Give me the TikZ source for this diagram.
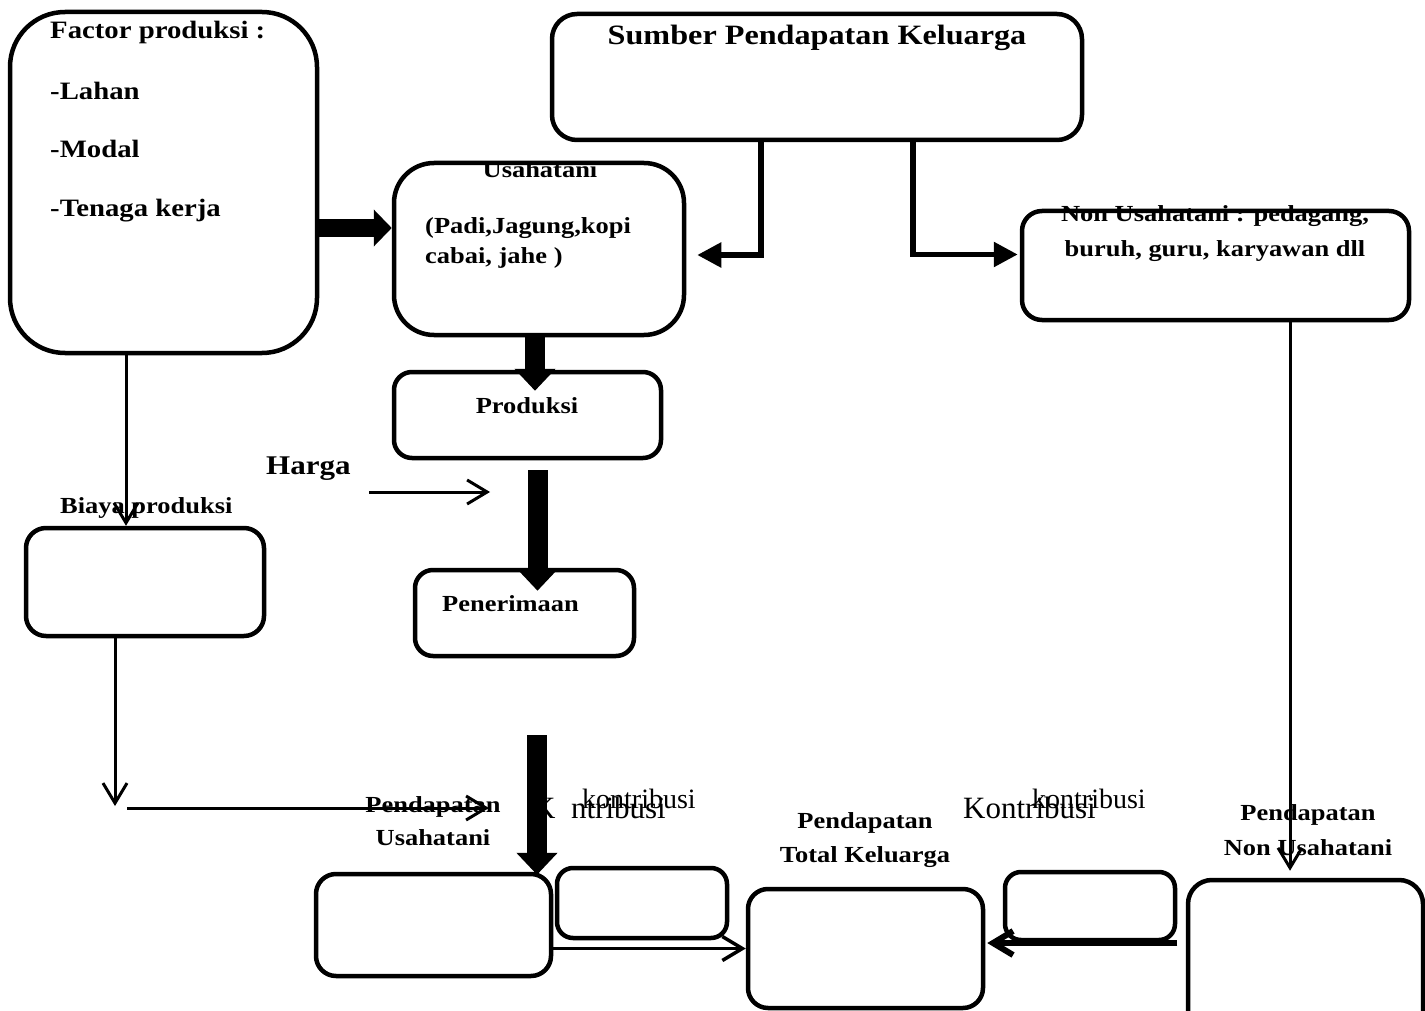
\documentclass[tikz,border=0pt]{standalone}
\usepackage{fontspec}
\setmainfont{Liberation Serif}[BoldFeatures={FakeStretch=1.15}]
\usetikzlibrary{arrows.meta,calc}

\begin{document}
\begin{tikzpicture}[x=1pt,y=1pt,
  box/.style={draw, line width=4.5pt, inner sep=0pt},
  lbl/.style={font=\bfseries\fontsize{23}{26}\selectfont, inner sep=0pt},
  note/.style={font=\fontsize{28}{30}\selectfont, inner sep=0pt, anchor=base west},
  fat/.style={line width=20pt, -{Triangle[length=22pt,width=40pt]}},
  link/.style={line width=3pt, -{Straight Barb[length=20pt,width=24pt]}},
  elbow/.style={line width=5.5pt, -{Triangle[length=24pt,width=24pt]}}
]
\useasboundingbox (0,0) rectangle (1425,-1011);

% boxes
\node[box, rounded corners=55pt, minimum width=307pt, minimum height=341pt] (factor) at (163.5,-182.5) {};
\node[box, rounded corners=25pt, minimum width=530pt, minimum height=126pt] (sumber) at (817,-77) {};
\node[box, rounded corners=40pt, minimum width=290pt, minimum height=172pt] (usaha) at (539,-249) {};
\node[box, rounded corners=20pt, minimum width=387pt, minimum height=109pt] (nonusaha) at (1215.5,-265.5) {};
\node[box, rounded corners=18pt, minimum width=267pt, minimum height=86pt] (produksi) at (527.5,-415) {};
\node[box, rounded corners=18pt, minimum width=219pt, minimum height=86pt] (penerimaan) at (524.5,-613) {};
\node[box, rounded corners=20pt, minimum width=238pt, minimum height=108pt] (biaya) at (145,-582) {};
\node[box, rounded corners=20pt, minimum width=235pt, minimum height=102pt] (pu) at (433.5,-925) {};
\node[box, rounded corners=16pt, minimum width=170pt, minimum height=70pt] (kon1) at (642,-903) {};
\node[box, rounded corners=20pt, minimum width=235pt, minimum height=119pt] (ptk) at (865.5,-948.5) {};
\node[box, rounded corners=16pt, minimum width=170pt, minimum height=68pt] (kon2) at (1090,-906) {};
\node[box, rounded corners=24pt, minimum width=235pt, minimum height=160pt] (pnu) at (1305.5,-960) {};

% texts
\node[lbl, font=\bfseries\fontsize{25}{28}\selectfont, anchor=base west] (f0) at (50,-39) {Factor produksi :};
\node[lbl, font=\bfseries\fontsize{25}{28}\selectfont, anchor=base west] (f1) at (50,-100) {-Lahan};
\node[lbl, font=\bfseries\fontsize{25}{28}\selectfont, anchor=base west] (f2) at (50,-158) {-Modal};
\node[lbl, font=\bfseries\fontsize{25}{28}\selectfont, anchor=base west] (f3) at (50,-217) {-Tenaga kerja};
\node[lbl, font=\bfseries\fontsize{28}{30}\selectfont, anchor=base] (sumber-t) at (817,-45) {Sumber Pendapatan Keluarga};
\node[lbl, anchor=base] (usaha-t) at (540,-178) {Usahatani};
\node[lbl, anchor=base west] (usaha-1) at (425,-234) {(Padi,Jagung,kopi};
\node[lbl, anchor=base west] (usaha-2) at (425,-264) {cabai, jahe )};
\node[lbl, anchor=base] (non-1) at (1215,-222) {Non Usahatani : pedagang,};
\node[lbl, anchor=base] (non-2) at (1215,-257) {buruh, guru, karyawan dll};
\node[lbl, anchor=base] (produksi-t) at (527,-413) {Produksi};
\node[lbl, anchor=base west] (penerimaan-t) at (442,-611) {Penerimaan};
\node[lbl, font=\bfseries\fontsize{27}{30}\selectfont, anchor=base west] (harga) at (266,-474) {Harga};
\node[lbl, anchor=base west] (biaya-t) at (60,-513) {Biaya produksi};
\node[lbl, anchor=base] (pu-1) at (433,-812) {Pendapatan};
\node[lbl, anchor=base] (pu-2) at (433,-845) {Usahatani};
\node[lbl, anchor=base] (ptk-1) at (865,-828) {Pendapatan};
\node[lbl, anchor=base] (ptk-2) at (865,-862) {Total Keluarga};
\node[lbl, anchor=base] (pnu-1) at (1308,-820) {Pendapatan};
\node[lbl, anchor=base] (pnu-2) at (1308,-855) {Non Usahatani};
\node[note, font=\fontsize{31}{33}\selectfont] (kon1-a) at (533,-818) {K\phantom{o}ntribusi};
\node[note] (kon1-b) at (582,-808) {kontribusi};
\node[note, font=\fontsize{31}{33}\selectfont] (kon2-a) at (963,-818) {Kontribusi};
\node[note] (kon2-b) at (1032,-808) {kontribusi};

% free ends
\coordinate (fy) at (0,-228);
\coordinate (lx) at (761,0);
\coordinate (rx) at (913,0);
\coordinate (bx) at (126,0);
\coordinate (nx) at (1290,0);
\coordinate (turn) at (115,-806);
\coordinate (cost-a) at (127,-808);
\coordinate (cost-b) at (489,-808);
\coordinate (harga-a) at (369,-492);
\coordinate (harga-b) at (490,-492);
\coordinate (fat-top) at (537,-735);

% connectors
\draw[fat, line width=18pt, -{Triangle[length=18pt,width=36pt]}] (factor.east |- fy) -- (usaha.west |- fy);
\draw[fat] ($(usaha.south)+(-4,0)$) -- ($(usaha.south |- produksi.north)+(-4,-21)$);
\draw[fat] ($(produksi.south)+(10,-10)$) -- ($(produksi.south |- penerimaan.north)+(10,-23)$);
\draw[fat] (fat-top) -- ($(fat-top |- pu.north)+(0,-3)$);
\draw[elbow] (sumber.south -| lx) |- ($(usaha.east)+(11,-6)$);
\draw[elbow] (sumber.south -| rx) |- ($(nonusaha.west)+(-2,11)$);
\draw[link] (factor.south -| bx) -- (biaya.north -| bx);
\draw[link] (biaya.south -| turn) -- (turn);
\draw[link] (cost-a) -- (cost-b);
\draw[link] (harga-a) -- (harga-b);
\draw[link] (nonusaha.south -| nx) -- ($(pnu.north -| nx)+(0,7)$);
\draw[link, line width=3.5pt] (pu.east |- ptk.west) -- (ptk.west);
\draw[link, line width=6pt] ($(kon2.east |- ptk.east)+(0,5.5)$) -- ($(ptk.east)+(2,5.5)$);
\end{tikzpicture}
\end{document}
